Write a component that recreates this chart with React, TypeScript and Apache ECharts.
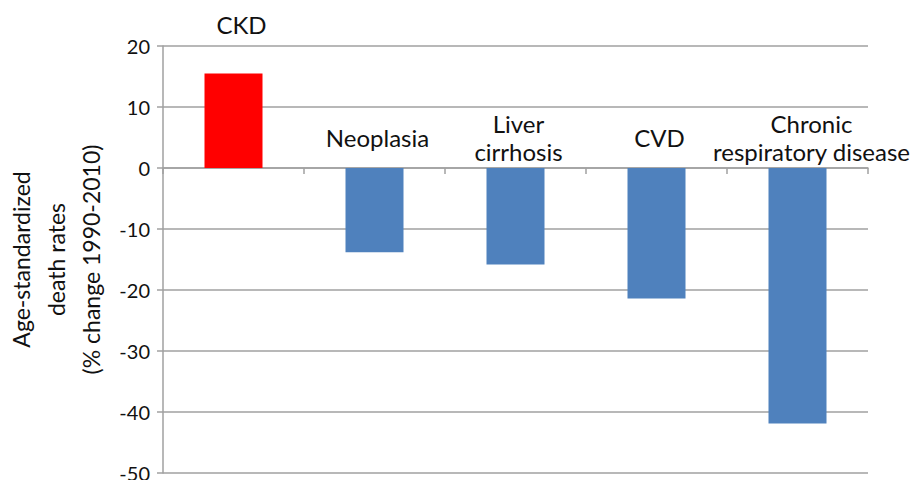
import React, { useEffect, useRef } from "react";
import * as echarts from "echarts";

const categories = ["CKD", "Neoplasia", "Liver\ncirrhosis", "CVD", "Chronic\nrespiratory disease"];
const values = [15.5, -13.8, -15.8, -21.4, -41.9];
const barColors = ["#FF0000", "#4F81BD", "#4F81BD", "#4F81BD", "#4F81BD"];
const yTicks = { min: -50, max: 20, interval: 10 };
const yAxisName = "Age-standardized\ndeath rates\n(% change 1990-2010)";

const FONT = "Lato, 'Open Sans', sans-serif";

// small horizontal nudges of the category captions, as in the original text boxes
const captionNudge = (i: number) => (i === 0 ? 8 : i === 4 ? 14 : 3);

export default function App() {
  const ref = useRef<HTMLDivElement>(null);
  useEffect(() => {
    if (!ref.current) return;
    const chart = echarts.init(ref.current, undefined, { renderer: "svg" });
    chart.setOption({
      animation: false,
      backgroundColor: "#ffffff",
      textStyle: { fontFamily: FONT },
      grid: {
        left: 163,
        right: 46,
        top: 46,
        bottom: 7,
        containLabel: false,
        outerBoundsMode: "none",
      },
      xAxis: {
        type: "category",
        data: categories,
        axisLine: { show: true, onZero: true, lineStyle: { color: "#A0A0A0", width: 1.5 } },
        axisTick: { show: true, length: 6, lineStyle: { color: "#A0A0A0", width: 1.5 } },
        axisLabel: { show: false },
        splitLine: { show: false },
      },
      yAxis: {
        type: "value",
        min: yTicks.min,
        max: yTicks.max,
        interval: yTicks.interval,
        name: yAxisName,
        nameLocation: "middle",
        nameGap: 53,
        nameTextStyle: { fontSize: 23, color: "#111", lineHeight: 35, fontFamily: FONT },
        axisLine: { show: true, lineStyle: { color: "#A0A0A0", width: 1.5 } },
        axisTick: { show: true, length: 6, lineStyle: { color: "#A0A0A0", width: 1.5 } },
        axisLabel: { fontSize: 20, color: "#111", margin: 13, fontFamily: FONT },
        splitLine: { show: true, lineStyle: { color: "#A0A0A0", width: 1.5 } },
      },
      series: [
        {
          type: "bar",
          barWidth: 58,
          data: values.map((v, i) => ({
            value: v,
            itemStyle: { color: barColors[i] },
            label: {
              show: true,
              position: "top",
              distance: v > 0 ? 49 : 31,
              offset: [captionNudge(i), 0],
              verticalAlign: "middle",
              formatter: () => categories[i],
              fontSize: 24,
              lineHeight: 28,
              color: "#111",
              fontFamily: FONT,
            },
          })),
        },
      ],
    });
    return () => chart.dispose();
  }, []);
  return (
    <div
      ref={ref}
      style={{ position: "fixed", left: 0, top: 0, width: 914, height: 480 }}
    />
  );
}
